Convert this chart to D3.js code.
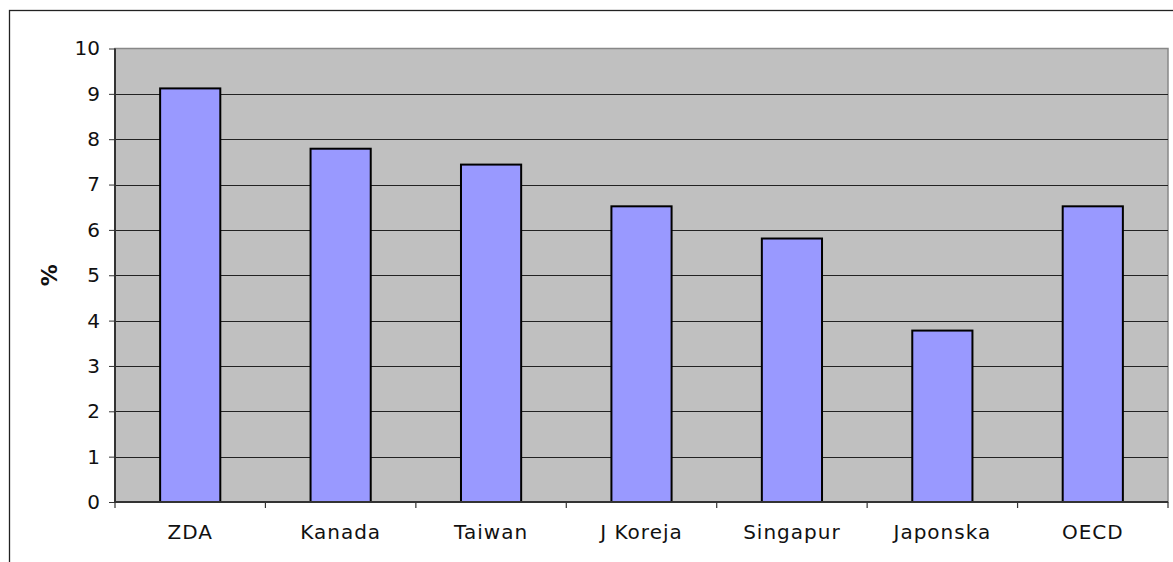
<!DOCTYPE html>
<html>
<head>
<meta charset="utf-8">
<script src="https://cdn.jsdelivr.net/npm/d3@7"></script>
<style>
  html, body { margin: 0; padding: 0; background: #fff; }
  svg { display: block; }
  text { font-family: "DejaVu Sans", Verdana, sans-serif; fill: #111; }
</style>
</head>
<body>
<svg id="chart" width="1173" height="562"></svg>
<script>
const categories = ["ZDA", "Kanada", "Taiwan", "J Koreja", "Singapur", "Japonska", "OECD"];
const values = [9.12, 7.79, 7.44, 6.52, 5.81, 3.78, 6.52];
const yTicks = [0, 1, 2, 3, 4, 5, 6, 7, 8, 9, 10];
const yLabel = "%";

const svg = d3.select("#chart");
const margin = { left: 115, top: 48.5, right: 1168, bottom: 502 };

// outer frame
svg.append("rect")
  .attr("x", 9.5).attr("y", 10.5)
  .attr("width", 1200).attr("height", 600)
  .attr("fill", "none").attr("stroke", "#222").attr("stroke-width", 1.3);

const x = d3.scaleBand().domain(categories)
  .range([margin.left, margin.right]).paddingInner(0.6).paddingOuter(0.3);
const y = d3.scaleLinear().domain([0, 10]).range([margin.bottom, margin.top]);

// plot background
svg.append("rect")
  .attr("x", margin.left).attr("y", margin.top)
  .attr("width", margin.right - margin.left).attr("height", margin.bottom - margin.top)
  .attr("fill", "#C0C0C0").attr("stroke", "#888").attr("stroke-width", 1.5);

// gridlines
svg.append("g").selectAll("line").data(yTicks.filter(d => d > 0 && d < 10)).join("line")
  .attr("x1", margin.left).attr("x2", margin.right)
  .attr("y1", d => Math.round(y(d)) + 0.5).attr("y2", d => Math.round(y(d)) + 0.5)
  .attr("stroke", "#222").attr("stroke-width", 1);

// bars
svg.append("g").selectAll("rect").data(values).join("rect")
  .attr("x", (d, i) => x(categories[i]))
  .attr("y", d => y(d))
  .attr("width", x.bandwidth())
  .attr("height", d => y(0) - y(d))
  .attr("fill", "#9999FF")
  .attr("stroke", "#000").attr("stroke-width", 2);

// y axis
const yAxis = d3.axisLeft(y).tickValues(yTicks).tickSize(6).tickPadding(9).tickFormat(d3.format("d"));
const gy = svg.append("g").attr("transform", `translate(${margin.left},0)`).call(yAxis);
gy.select(".domain").attr("stroke", "#333").attr("stroke-width", 2).attr("d", `M0,${margin.top}V${margin.bottom}`);
gy.selectAll(".tick line").attr("stroke", "#333");
gy.selectAll(".tick text").attr("font-size", 20).attr("fill", "#111")
  .style("font-family", "'DejaVu Sans', Verdana, sans-serif");

// x axis
const boundaries = categories.map(c => x(c) - x.step() * x.paddingInner() / 2 - (x(c) === x(categories[0]) ? 0 : 0));
const step = (margin.right - margin.left) / categories.length;
const gx = svg.append("g").attr("transform", `translate(0,${margin.bottom})`);
gx.append("line").attr("x1", margin.left).attr("x2", margin.right)
  .attr("y1", 0).attr("y2", 0).attr("stroke", "#333").attr("stroke-width", 2);
gx.selectAll("line.tk").data(d3.range(categories.length + 1)).join("line")
  .attr("class", "tk")
  .attr("x1", i => margin.left + i * step).attr("x2", i => margin.left + i * step)
  .attr("y1", 0).attr("y2", 6).attr("stroke", "#333").attr("stroke-width", 1.2);
gx.selectAll("text").data(categories).join("text")
  .attr("x", d => x(d) + x.bandwidth() / 2)
  .attr("y", 37)
  .attr("text-anchor", "middle")
  .attr("font-size", 20)
  .attr("letter-spacing", 1)
  .text(d => d);

// y label
svg.append("text")
  .attr("transform", `translate(57,${(margin.top + margin.bottom) / 2}) rotate(-90)`)
  .attr("text-anchor", "middle")
  .attr("font-size", 22)
  .attr("font-weight", "bold")
  .text(yLabel);
</script>
</body>
</html>
